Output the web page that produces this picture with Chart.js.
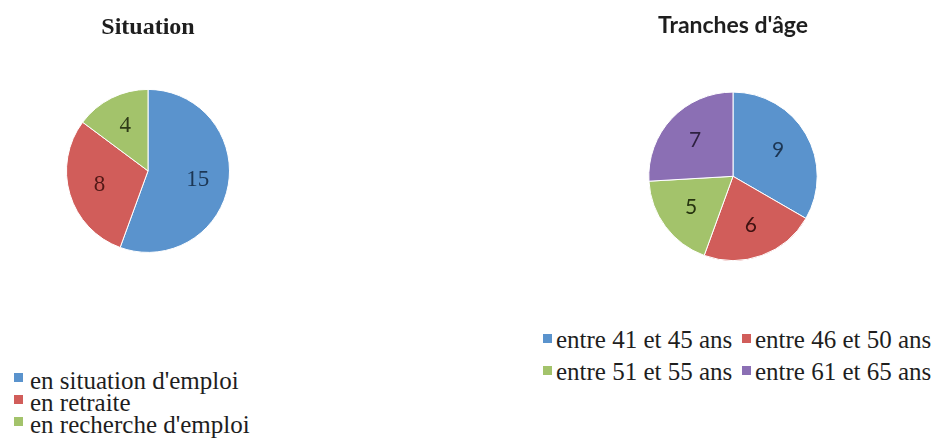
<!DOCTYPE html>
<html lang="fr">

<head>
  <meta charset="UTF-8">
  <script src="https://cdn.jsdelivr.net/npm/chart.js"></script>
  <title>Situation / Tranches d'âge</title>
  <style>
    body {
      margin: 0;
      background: #fff;
      width: 937px;
      height: 448px;
      position: relative;
      overflow: hidden;
    }
    canvas {
      position: absolute;
    }
    #chartSituation {
      left: 0;
      top: 0;
    }
    #chartAge {
      left: 600px;
      top: 0;
    }
    .legend {
      position: absolute;
      left: 0;
      top: 0;
      font-family: "Liberation Serif", "Times New Roman", Times, serif;
      color: #1e1e1e;
      white-space: nowrap;
    }
    .legend .item {
      position: absolute;
    }
    .legend .box {
      position: absolute;
      width: 9px;
      height: 9px;
    }
  </style>
</head>

<body>
  <canvas id="chartSituation" width="296" height="262"></canvas>
  <canvas id="chartAge" width="266" height="268"></canvas>
  <div class="legend" id="legendSituation"></div>
  <div class="legend" id="legendAge"></div>

  <script>
    const situationLabels = ["en situation d'emploi", 'en retraite', "en recherche d'emploi"];
    const situationValues = [15, 8, 4];
    const situationColors = ['#5a93cd', '#d15d5a', '#a3c36b'];
    const situationTextColors = ['#1c3654', '#521816', '#2f3b17'];

    const ageLabels = ['entre 41 et 45 ans', 'entre 46 et 50 ans', 'entre 51 et 55 ans', 'entre 61 et 65 ans'];
    const ageValues = [9, 6, 5, 7];
    const ageColors = ['#5a93cd', '#d15d5a', '#a3c36b', '#8b6fb4'];
    const ageTextColors = ['#1c3654', '#3e1110', '#26330f', '#2e2140'];

    // valeurs dans les parts
    const sliceLabels = {
      id: 'sliceLabels',
      afterDatasetsDraw(chart, args, opts) {
        const ctx = chart.ctx;
        const ds = chart.data.datasets[0];
        chart.getDatasetMeta(0).data.forEach((arc, i) => {
          const p = arc.getProps(['x', 'y', 'startAngle', 'endAngle', 'outerRadius'], true);
          const mid = (p.startAngle + p.endAngle) / 2;
          const r = p.outerRadius * opts.dist;
          ctx.save();
          ctx.font = opts.font;
          ctx.fillStyle = opts.colors[i];
          ctx.textAlign = 'center';
          ctx.textBaseline = 'middle';
          ctx.fillText(ds.data[i], p.x + Math.cos(mid) * r, p.y + Math.sin(mid) * r);
          ctx.restore();
        });
      }
    };

    function makePie(id, labels, values, colors, title, titleFont, padding, titlePad, labelOpts) {
      return new Chart(document.getElementById(id), {
        type: 'pie',
        data: {
          labels: labels,
          datasets: [{
            data: values,
            backgroundColor: colors,
            borderColor: '#ffffff',
            borderWidth: 1
          }]
        },
        options: {
          responsive: false,
          animation: false,
          devicePixelRatio: 1,
          layout: { padding: padding },
          plugins: {
            legend: { display: false },
            tooltip: { enabled: false },
            title: {
              display: true,
              text: title,
              color: '#1e1e1e',
              font: titleFont,
              padding: titlePad
            },
            sliceLabels: labelOpts
          }
        },
        plugins: [sliceLabels]
      });
    }

    makePie('chartSituation', situationLabels, situationValues, situationColors, 'Situation',
      { family: "'Liberation Serif', 'Times New Roman', serif", size: 24, weight: 'bold', lineHeight: 1.2 },
      { left: 66, right: 66, top: 0, bottom: 9 },
      { top: 13, bottom: 47 },
      { dist: 0.62, font: "23px 'Liberation Serif', 'Times New Roman', serif", colors: situationTextColors });

    makePie('chartAge', ageLabels, ageValues, ageColors, "Tranches d'âge",
      { family: 'Lato, sans-serif', size: 23, weight: 'bold', lineHeight: 1.2 },
      { left: 48, right: 48, top: 0, bottom: 7 },
      { top: 12, bottom: 52 },
      { dist: 0.62, font: '21px Lato, sans-serif', colors: ageTextColors });

    function renderLegend(elId, labels, colors, opts) {
      const el = document.getElementById(elId);
      el.style.fontSize = opts.fontSize + 'px';
      el.style.lineHeight = opts.rowHeight + 'px';
      labels.forEach((label, i) => {
        const col = i % opts.cols;
        const row = Math.floor(i / opts.cols);
        const x = opts.x + col * opts.colWidth;
        const y = opts.y + row * opts.rowHeight;
        const box = document.createElement('div');
        box.className = 'box';
        box.style.background = colors[i];
        box.style.left = x + 'px';
        box.style.top = (y + opts.boxOffset) + 'px';
        const item = document.createElement('div');
        item.className = 'item';
        item.textContent = label;
        item.style.left = (x + opts.textGap) + 'px';
        item.style.top = y + 'px';
        el.appendChild(box);
        el.appendChild(item);
      });
    }

    renderLegend('legendSituation', situationLabels, situationColors,
      { x: 14, y: 370, cols: 1, colWidth: 0, rowHeight: 22, fontSize: 25, textGap: 16, boxOffset: 3 });
    renderLegend('legendAge', ageLabels, ageColors,
      { x: 543, y: 324, cols: 2, colWidth: 199, rowHeight: 32, fontSize: 25, textGap: 13, boxOffset: 10 });
  </script>
</body>

</html>
